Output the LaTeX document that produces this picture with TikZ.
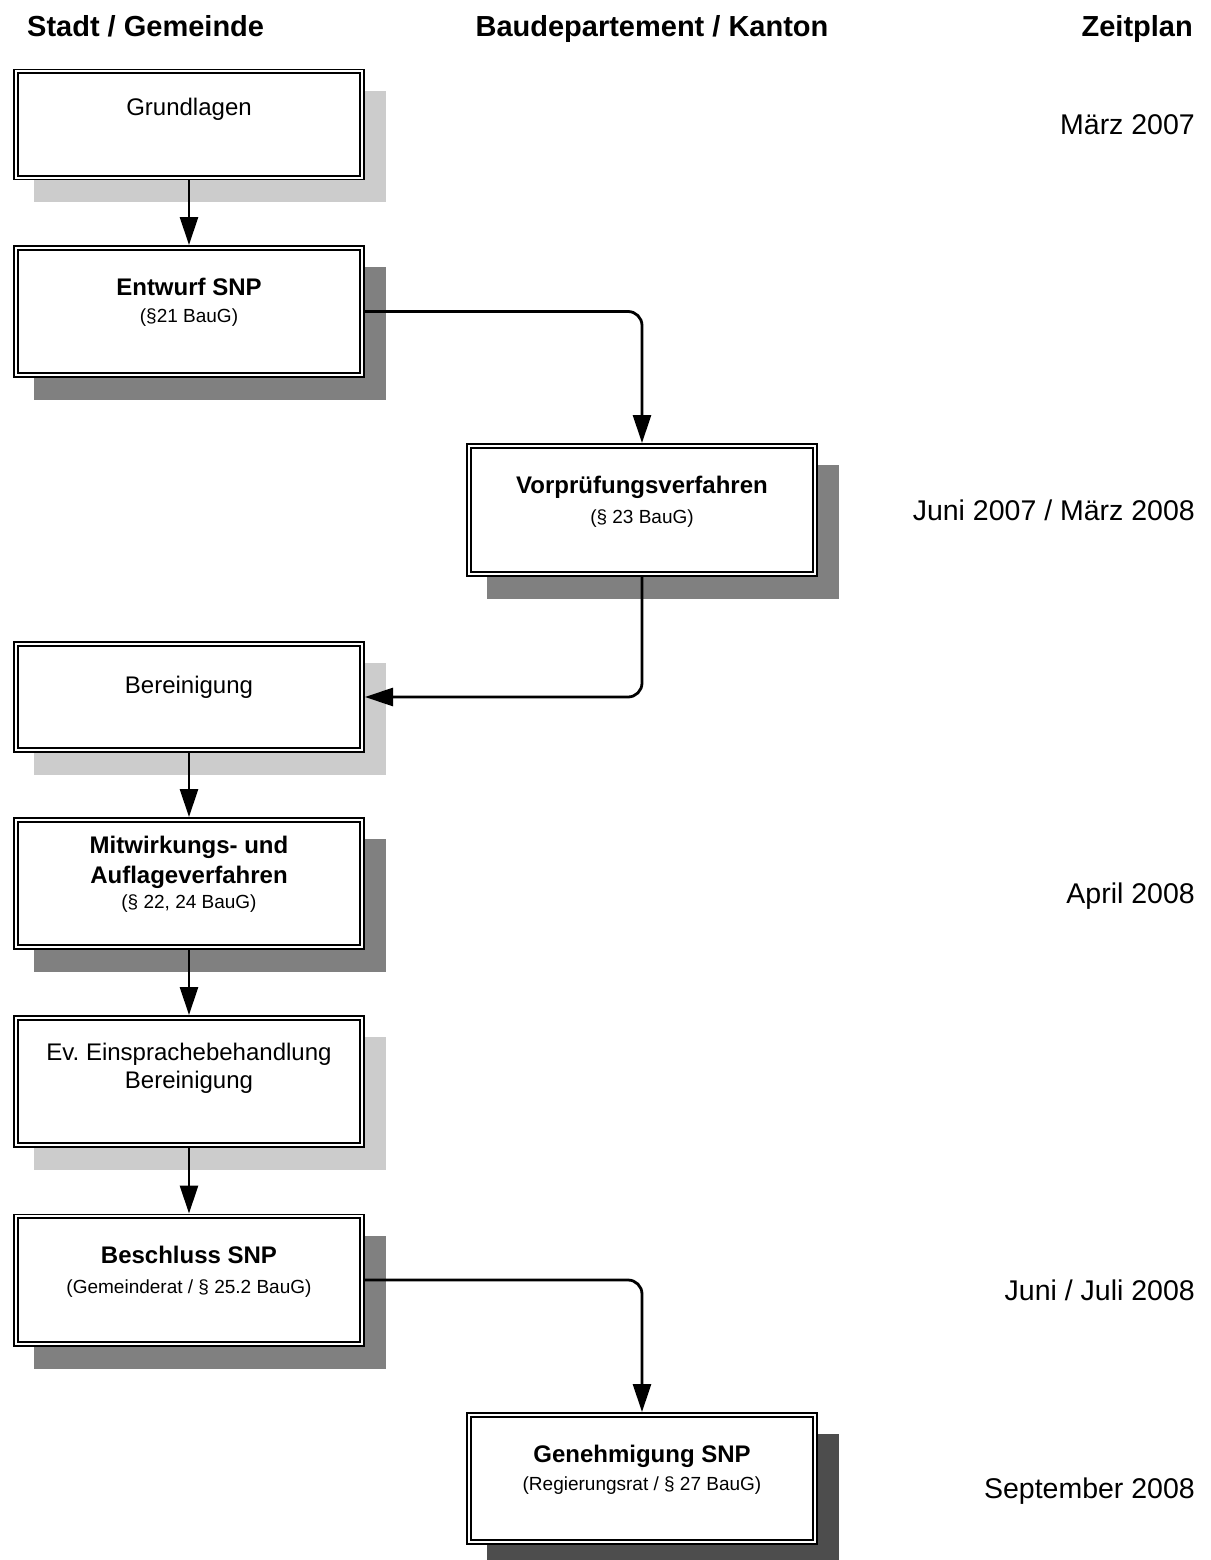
\documentclass[tikz,border=0pt]{standalone}
\usepackage{fontspec}
\setmainfont{Liberation Sans}
\usetikzlibrary{arrows.meta,backgrounds,calc}
\definecolor{shL}{HTML}{CCCCCC}
\definecolor{shM}{HTML}{808080}
\definecolor{shD}{HTML}{4D4D4D}
\frenchspacing
\tikzset{
  box/.style={rectangle, draw=black, line width=1.8pt, double=white, double distance=2pt,
    fill=white, minimum width=346.4pt, inner sep=0pt, outer sep=2.8pt},
  tallbox/.style={box, minimum height=127.4pt},
  shortbox/.style={box, minimum height=106pt},
  mainT/.style={font=\fontsize{24pt}{30pt}\selectfont, anchor=base, inner sep=0pt},
  boldT/.style={font=\bfseries\fontsize{24pt}{30pt}\selectfont, anchor=base, inner sep=0pt},
  subT/.style={font=\fontsize{19pt}{23pt}\selectfont, anchor=base, inner sep=0pt},
  dateT/.style={font=\fontsize{28.5pt}{34pt}\selectfont, anchor=base east, inner sep=0pt},
  headT/.style={font=\bfseries\fontsize{29pt}{34pt}\selectfont, inner sep=0pt},
  conn/.style={line width=2.8pt, -{Triangle[length=28pt,width=18pt]}, rounded corners=14pt},
  shsh/.style={shift={(21,22)}}
}
\begin{document}
\begin{tikzpicture}[x=1pt,y=-1pt]
\useasboundingbox (0,0) rectangle (1210,1560);

% headers
\node[headT, anchor=base west] (h1) at (27,37) {Stadt / Gemeinde};
\node[headT, anchor=base] (h2) at (652,37) {Baudepartement / Kanton};
\node[headT, anchor=base east] (h3) at (1193,37) {Zeitplan};

% boxes
\node[shortbox] (g) at (189,124.5) {};
\node[tallbox] (e) at (189,311.5) {};
\node[tallbox, minimum height=128.4pt] (v) at (642,510) {};
\node[shortbox] (b) at (189,697) {};
\node[tallbox] (m) at (189,883.5) {};
\node[tallbox] (ev) at (189,1081.5) {};
\node[tallbox] (be) at (189,1280) {};
\node[tallbox] (ge) at (642,1478.5) {};

% shadows
\begin{scope}[on background layer]
\fill[shL] ([shsh]g.north west) rectangle ([shsh]g.south east);
\fill[shM] ([shsh]e.north west) rectangle ([shsh]e.south east);
\fill[shM] ([shsh]v.north west) rectangle ([shsh]v.south east);
\fill[shL] ([shsh]b.north west) rectangle ([shsh]b.south east);
\fill[shM] ([shsh]m.north west) rectangle ([shsh]m.south east);
\fill[shL] ([shsh]ev.north west) rectangle ([shsh]ev.south east);
\fill[shM] ([shsh]be.north west) rectangle ([shsh]be.south east);
\fill[shD] ([shsh]ge.north west) rectangle ([shsh]ge.south east);
\end{scope}

% box texts
\node[mainT] (gT) at (189,116) {Grundlagen};
\node[boldT] (eT) at (189,295) {Entwurf SNP};
\node[subT] (eS) at (189,322) {(§21 BauG)};
\node[boldT] (vT) at (642,493) {Vorprüfungsverfahren};
\node[subT] (vS) at (642,523) {(§ 23 BauG)};
\node[mainT] (bT) at (189,693) {Bereinigung};
\node[boldT] (m1) at (189,853) {Mitwirkungs- und};
\node[boldT] (m2) at (189,883) {Auflageverfahren};
\node[subT] (m3) at (189,908) {(§ 22, 24 BauG)};
\node[mainT] (ev1) at (189,1060) {Ev. Einsprachebehandlung};
\node[mainT] (ev2) at (189,1088) {Bereinigung};
\node[boldT] (be1) at (189,1263) {Beschluss SNP};
\node[subT] (be2) at (189,1293) {(Gemeinderat / § 25.2 BauG)};
\node[boldT] (ge1) at (642,1462) {Genehmigung SNP};
\node[subT] (ge2) at (642,1490) {(Regierungsrat / § 27 BauG)};

% dates
\node[dateT] (d1) at (1195,135) {März 2007};
\node[dateT] (d2) at (1195,520) {Juni 2007 / März 2008};
\node[dateT] (d3) at (1195,903) {April 2008};
\node[dateT] (d4) at (1195,1300) {Juni / Juli 2008};
\node[dateT] (d5) at (1195,1498) {September 2008};

% connectors
\draw[conn] (g.south) -- (e.north);
\draw[conn] (e.east) -| (v.north);
\draw[conn] (v.south) |- (b.east);
\draw[conn] (b.south) -- (m.north);
\draw[conn] (m.south) -- (ev.north);
\draw[conn] (ev.south) -- (be.north);
\draw[conn] (be.east) -| (ge.north);
\end{tikzpicture}
\end{document}
